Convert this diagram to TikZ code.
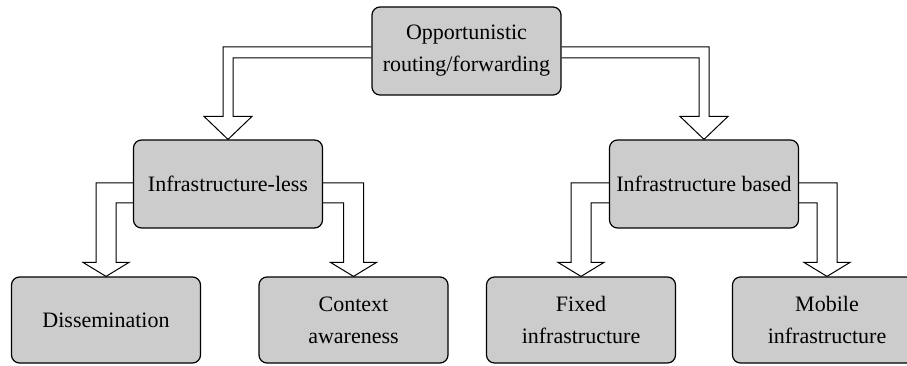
\documentclass[tikz,border=0pt]{standalone}
\usepackage{fontspec}
\setmainfont{Liberation Serif}
\usetikzlibrary{backgrounds}

\tikzset{
  catbox/.style={draw=black,line width=1.2pt,fill=black!20,rounded corners=8pt,
    minimum width=189pt,minimum height=88pt,inner sep=0pt,align=center,
    font=\fontsize{22}{32}\selectfont},
  leafbox/.style={catbox,minimum height=86pt},
  blockarrow/.style={draw=black,line width=1pt,fill=white}
}

\begin{document}
\begin{tikzpicture}[x=1pt,y=-1pt]
\useasboundingbox (0,0) rectangle (907,366);
% boxes
\node[catbox] (top) at (466.5,51) {Opportunistic\\routing/forwarding};
\node[catbox] (less) at (228,184) {Infrastructure-less};
\node[catbox] (based) at (704,184) {Infrastructure based};
\node[leafbox] (diss) at (106,320) {Dissemination};
\node[leafbox] (ctx) at (353.5,320) {Context\\awareness};
\node[leafbox] (fixed) at (581,320) {Fixed\\infrastructure};
\node[leafbox] (mobile) at (827,320) {Mobile\\infrastructure};
% hollow arrows
\begin{scope}[on background layer]
\foreach \src/\anc/\dst/\s in {top/west/less/1, top/east/based/-1}
  \draw[blockarrow] ([yshift=-7pt]\src.\anc) -| ([xshift=\s*5pt,yshift=23pt]\dst.north)
    -- ++({19*\s},0) -- (\dst.north) -- ++({-24*\s},-23) -- ++({19*\s},0)
    |- ([yshift=4pt]\src.\anc);
\foreach \src/\anc/\dst/\s in {less/west/diss/1, less/east/ctx/-1, based/west/fixed/1, based/east/mobile/-1}
  \draw[blockarrow] ([yshift=-19pt]\src.\anc) -| ([xshift=\s*10pt,yshift=14pt]\dst.north)
    -- ++({13*\s},0) -- (\dst.north) -- ++({-23*\s},-14) -- ++({13*\s},0)
    |- ([yshift=1pt]\src.\anc);
\end{scope}
\end{tikzpicture}
\end{document}
